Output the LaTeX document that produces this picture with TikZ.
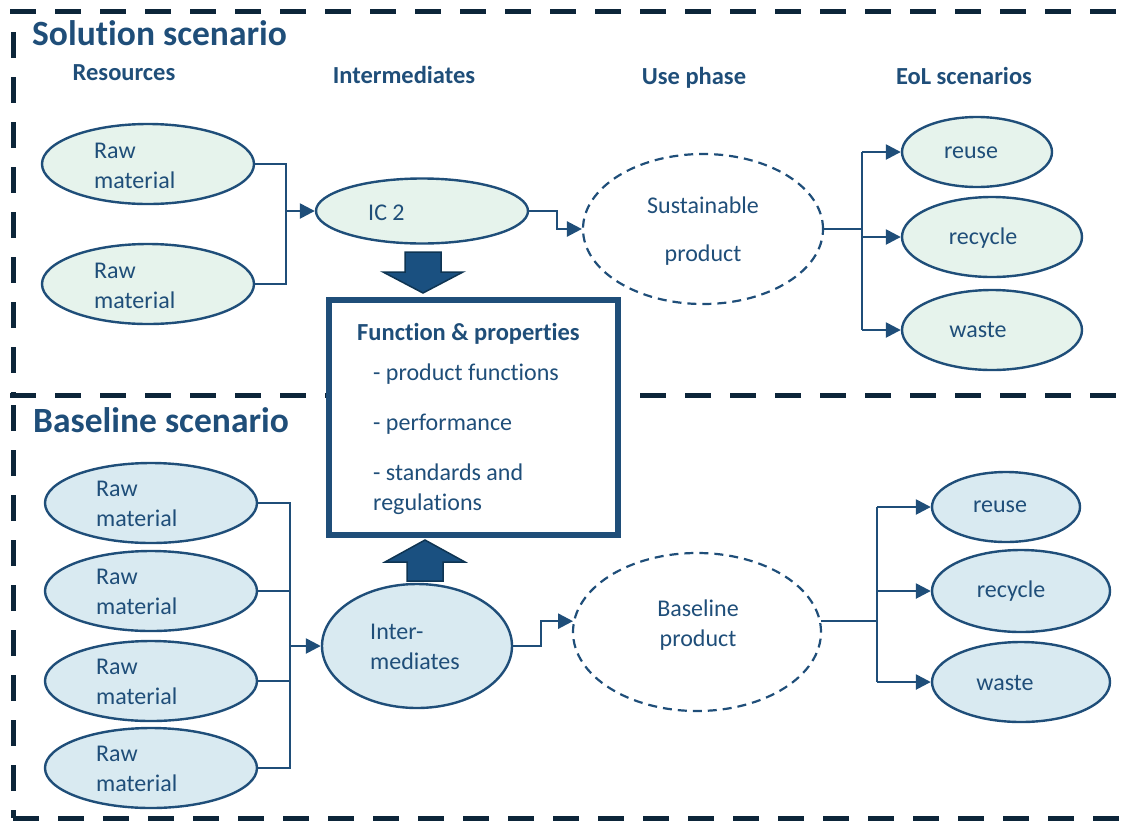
\documentclass[tikz,border=0pt]{standalone}
\usepackage{fontspec}
\setmainfont{Carlito}[Ligatures=NoCommon]
\usetikzlibrary{shapes.geometric,arrows.meta}
\definecolor{tblue}{HTML}{1F4E79}
\definecolor{navy}{HTML}{0C2539}
\definecolor{mint}{HTML}{E6F3EC}
\definecolor{pale}{HTML}{D9EAF1}
\definecolor{arrfill}{HTML}{1A5080}
\definecolor{arrline}{HTML}{0E3452}
\tikzset{
  ell/.style={ellipse, draw=tblue, line width=2.4pt, inner sep=0pt},
  ellS/.style={ell, fill=mint},
  ellB/.style={ell, fill=pale},
  dell/.style={ellipse, draw=tblue, line width=2.2pt, dash pattern=on 9pt off 6pt, inner sep=0pt},
  conn/.style={draw=tblue, line width=2.5pt},
  arr/.style={conn, -{Triangle[length=15pt,width=15pt]}},
  txt/.style={text=tblue, font=\fontsize{24}{30}\selectfont, inner sep=0pt, align=left},
  ctxt/.style={text=tblue, font=\fontsize{24}{30}\selectfont, inner sep=0pt},
  hdr/.style={text=tblue, font=\bfseries\fontsize{24.5}{28}\selectfont, inner sep=0pt},
  ttl/.style={text=tblue, font=\bfseries\fontsize{35.5}{40}\selectfont, inner sep=0pt},
  frame/.style={draw=navy, line width=5pt, dash pattern=on 26pt off 19pt},
  fbox/.style={draw=tblue, line width=6pt, fill=white, inner sep=0pt},
  blockarrow/.style={fill=arrfill, draw=arrline, line width=1.5pt}
}
\begin{document}
\begin{tikzpicture}[x=1pt,y=-1pt]
\useasboundingbox (0,0) rectangle (1135,820);

% frames
\draw[frame] (10,11) -- (1135,11);
\draw[frame, dash phase=-21pt] (13,11) -- (13,395);
\draw[frame] (10,395) -- (1135,395);
\draw[frame, dash phase=-10pt] (13,395) -- (13,818);
\draw[frame] (13,818) -- (1135,818);

% titles and headers
\node[ttl, anchor=base west] (t1) at (32,45) {Solution scenario};
\node[ttl, anchor=base west] (t2) at (33,432) {Baseline scenario};
\node[hdr, anchor=base] (h1) at (124,80) {Resources};
\node[hdr, anchor=base] (h2) at (404,83) {Intermediates};
\node[hdr, anchor=base] (h3) at (694,84) {Use phase};
\node[hdr, anchor=base] (h4) at (964,84) {EoL scenarios};

% ---- solution scenario
\node[ellS, minimum width=212pt, minimum height=80pt] (rm1) at (148,164) {};
\node[ellS, minimum width=212pt, minimum height=80pt] (rm2) at (148,284) {};
\node[txt, anchor=base west] (rm1t) at (94,188) {Raw\\material};
\node[txt, anchor=base west] (rm2t) at (94,308) {Raw\\material};

\node[ellS, minimum width=212pt, minimum height=65pt] (ic2) at (422,211) {};
\node[ctxt, anchor=base west] (ic2t) at (368,220) {IC 2};

\node[dell, minimum width=240pt, minimum height=150pt] (sp) at (703,229) {};
\node[ctxt, anchor=base] (spt1) at (703,213) {Sustainable};
\node[ctxt, anchor=base] (spt2) at (703,261) {product};

\node[ellS, minimum width=150pt, minimum height=70pt] (re1) at (977,152) {};
\node[ellS, minimum width=180pt, minimum height=80pt] (rc1) at (992,237) {};
\node[ellS, minimum width=180pt, minimum height=80pt] (wa1) at (992,330) {};
\node[ctxt] (re1t) at (971,153) {reuse};
\node[ctxt] (rc1t) at (983,238) {recycle};
\node[ctxt] (wa1t) at (978,330) {waste};

\coordinate (j1) at (286,211);
\draw[conn] (rm1.east) -- (rm1.east -| j1) -- (rm2.east -| j1) -- (rm2.east);
\draw[arr] (j1) -- (ic2.west);
\draw[arr] (ic2.east) -- ++(28,0) |- (sp.west);
\coordinate (x2) at (862,0);
\draw[conn] (sp.east) -- (sp.east -| x2);
\draw[conn] (re1.west -| x2) -- (wa1.west -| x2);
\draw[arr] (re1.west -| x2) -- (re1.west);
\draw[arr] (rc1.west -| x2) -- (rc1.west);
\draw[arr] (wa1.west -| x2) -- (wa1.west);

% ---- baseline scenario
\node[ellB, minimum width=212pt, minimum height=80pt] (rm5) at (151,503) {};
\node[ellB, minimum width=212pt, minimum height=80pt] (rm6) at (151,591) {};
\node[ellB, minimum width=212pt, minimum height=80pt] (rm7) at (151,681) {};
\node[ellB, minimum width=212pt, minimum height=80pt] (rm8) at (151,768) {};
\node[txt, anchor=base west] (rm5t) at (96,526) {Raw\\material};
\node[txt, anchor=base west] (rm6t) at (96,614) {Raw\\material};
\node[txt, anchor=base west] (rm7t) at (96,704) {Raw\\material};
\node[txt, anchor=base west] (rm8t) at (96,791) {Raw\\material};

\node[ellB, minimum width=190pt, minimum height=124pt] (int) at (417,646) {};
\node[txt, anchor=base west] (intt) at (370,669) {Inter-\\mediates};

\node[dell, minimum width=248pt, minimum height=158pt] (bp) at (697,632) {};
\node[ctxt, anchor=base] (bpt1) at (698,616) {Baseline};
\node[ctxt, anchor=base] (bpt2) at (698,646) {product};

\node[ellB, minimum width=148pt, minimum height=70pt] (re2) at (1006,507) {};
\node[ellB, minimum width=178pt, minimum height=82pt] (rc2) at (1021,591) {};
\node[ellB, minimum width=178pt, minimum height=80pt] (wa2) at (1021,682) {};
\node[ctxt] (re2t) at (1000,507) {reuse};
\node[ctxt] (rc2t) at (1011,591) {recycle};
\node[ctxt] (wa2t) at (1005,683) {waste};

\coordinate (j3) at (290,646);
\draw[conn] (rm5.east) -- (rm5.east -| j3) -- (rm8.east -| j3) -- (rm8.east);
\draw[conn] (rm6.east) -- (rm6.east -| j3);
\draw[conn] (rm7.east) -- (rm7.east -| j3);
\draw[arr] (j3) -- (int.west);
\draw[arr] (int.east) -- ++(28,0) |- (bp.175);
\coordinate (x4) at (877,0);
\draw[conn] (bp.5) -- (bp.5 -| x4);
\draw[conn] (re2.west -| x4) -- (wa2.west -| x4);
\draw[arr] (re2.west -| x4) -- (re2.west);
\draw[arr] (rc2.west -| x4) -- (rc2.west);
\draw[arr] (wa2.west -| x4) -- (wa2.west);

% ---- function box and block arrows
\node[fbox, minimum width=289pt, minimum height=235pt] (fp) at (473.5,417.5) {};
\node[hdr, anchor=base west] (fpt0) at (357,340) {Function \& properties};
\node[txt, anchor=base west] (fpt1) at (373,380) {- product functions};
\node[txt, anchor=base west] (fpt2) at (373,430) {- performance};
\node[txt, anchor=base west] (fpt3) at (373,510) {- standards and\\regulations};

\draw[blockarrow] (405,252) -- (441,252) -- (441,272) -- (463,272) -- (423,293) -- (383,272) -- (405,272) -- cycle;
\draw[blockarrow] (407,581) -- (443,581) -- (443,562) -- (465,562) -- (425,540) -- (385,562) -- (407,562) -- cycle;
\end{tikzpicture}
\end{document}
